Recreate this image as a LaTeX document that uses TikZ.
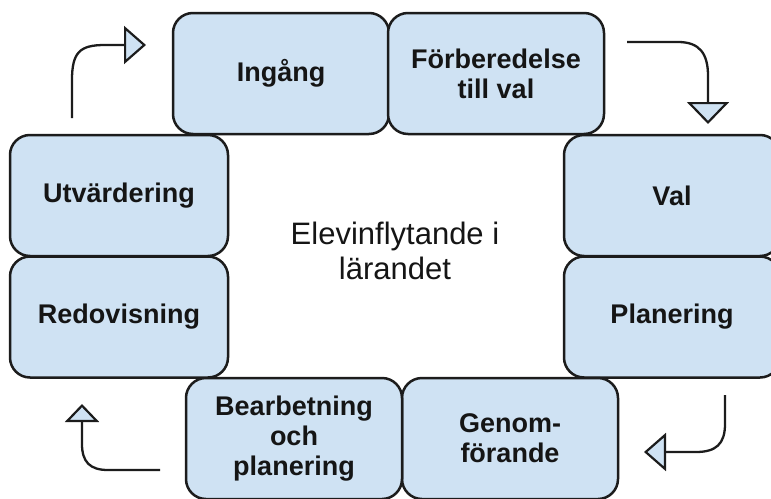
\documentclass[tikz,border=0pt]{standalone}
\usepackage{fontspec}
\setmainfont{Liberation Sans}
\usetikzlibrary{arrows.meta}
\definecolor{boxfill}{HTML}{CFE2F3}
\definecolor{boxline}{HTML}{1C1C1C}
\definecolor{ink}{HTML}{151515}
\begin{document}
\begin{tikzpicture}[x=1pt,y=-1pt,
  stage/.style={draw=boxline, fill=boxfill, line width=2.5pt, rounded corners=20pt,
    minimum width=216pt, minimum height=121pt, inner sep=0pt, align=center,
    font=\fontsize{27}{30}\selectfont\bfseries, text=ink},
  flow/.style={draw=boxline, line width=2.3pt,
    -{Triangle[fill=boxfill, length=22pt, width=38pt, line width=2.2pt]}},
  flowsmall/.style={draw=boxline, line width=2.3pt,
    -{Triangle[fill=boxfill, length=18pt, width=34pt, line width=2.2pt]}},
  center text/.style={align=center, font=\fontsize{31}{35}\selectfont, text=ink}
]
\useasboundingbox (0,0) rectangle (771,498);
\fill[white] (0,0) rectangle (771,498);
\clip (0,0) rectangle (771,498);

\node[stage] (ingang) at (281,73.5) {Ingång};
\node[stage] (forb) at (496,73.5) {Förberedelse\\till val};
\node[stage] (val) at (672,195.5) {Val};
\node[stage] (plan) at (672,317) {Planering};
\node[stage] (genom) at (510,438.5) {Genom-\\förande};
\node[stage] (bearb) at (294,438.5) {Bearbetning\\och\\planering};
\node[stage, minimum width=218pt] (redov) at (119,317) {Redovisning};
\node[stage, minimum width=218pt] (utv) at (119,195.5) {Utvärdering};

\node[center text] (title) at (395,251) {Elevinflytande i\\lärandet};

% arrows
\coordinate (a1s) at (72,118);
\coordinate (a1e) at (146,45);
\draw[flow] (a1s) -- (72,80) .. controls (72,52) and (80,45) .. (105,45) -- (a1e);

\coordinate (a2s) at (627,42);
\coordinate (a2e) at (708,124);
\draw[flow, -{Triangle[fill=boxfill, length=22pt, width=42pt, line width=2.2pt]}]
  (a2s) -- (678,42) .. controls (700,42) and (708,54) .. (708,76) -- (a2e);

\coordinate (a3s) at (725,395);
\coordinate (a3e) at (644,452);
\draw[flow] (a3s) -- (725,424) .. controls (725,444) and (716,452) .. (696,452) -- (a3e);

\coordinate (a4s) at (160,470);
\coordinate (a4e) at (82,404);
\draw[flowsmall] (a4s) -- (108,470) .. controls (90,470) and (82,462) .. (82,444) -- (a4e);
\end{tikzpicture}
\end{document}
